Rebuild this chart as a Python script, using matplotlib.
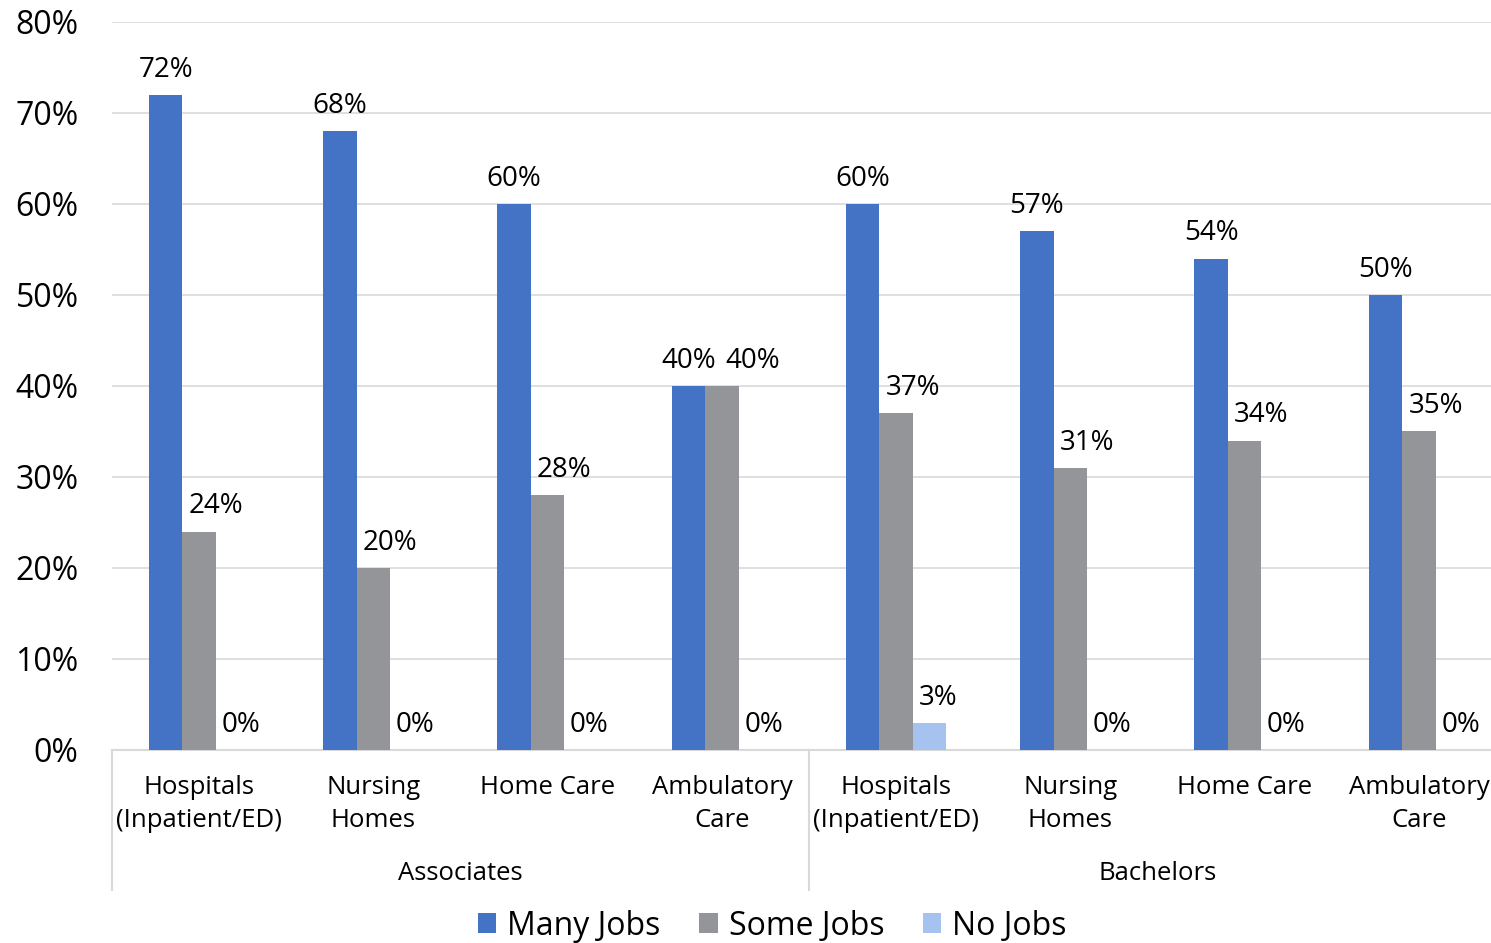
import matplotlib.pyplot as plt
import numpy as np

# job availability by setting, split by degree
categories = ["Hospitals\n(Inpatient/ED)", "Nursing\nHomes", "Home Care", "Ambulatory\nCare",
              "Hospitals\n(Inpatient/ED)", "Nursing\nHomes", "Home Care", "Ambulatory\nCare"]
groups = ["Associates", "Bachelors"]
many_jobs = [72, 68, 60, 40, 60, 57, 54, 50]
some_jobs = [24, 20, 28, 40, 37, 31, 34, 35]
no_jobs = [0, 0, 0, 0, 3, 0, 0, 0]

series = [("Many Jobs", many_jobs, "#4472C4"),
          ("Some Jobs", some_jobs, "#939598"),
          ("No Jobs", no_jobs, "#A6C3F0")]
# horizontal nudge of the value labels, in points
label_dx = [0, 12, 6]

plt.rcParams['font.family'] = ['Open Sans', 'DejaVu Sans']
txt = "#000000"

fig = plt.figure(figsize=(14.91, 9.43), dpi=100)
ax = fig.add_axes([0.0751, 0.2047, 0.935, 0.772])

x = np.arange(len(categories))
w = 0.192
labels = []
for i, (name, vals, col) in enumerate(series):
    bars = ax.bar(x + (i - 1) * w, vals, w, color=col, label=name, zorder=3)
    row = []
    for b, v in zip(bars, vals):
        t = ax.annotate(f"{v}%", (b.get_x() + b.get_width() / 2, v),
                        xytext=(label_dx[i], 8), textcoords="offset points",
                        ha="center", va="bottom", fontsize=20, color=txt)
        row.append(t)
    labels.append(row)

ax.set_xlim(-0.5, len(categories) - 0.5)
ax.set_ylim(0, 80)
ax.set_yticks(range(0, 81, 10))
ax.set_yticklabels([f"{t}%" for t in range(0, 81, 10)], fontsize=23, color=txt)
ax.tick_params(axis="y", length=0, pad=24)
ax.set_xticks([])
ax.grid(axis="y", color="#d9d9d9", linewidth=1.2, zorder=0)
for s in ["top", "right", "left"]:
    ax.spines[s].set_visible(False)
ax.spines["bottom"].set_color("#d9d9d9")
ax.spines["bottom"].set_linewidth(1.5)

# category and group labels underneath the axis
tr = ax.get_xaxis_transform()
for xi, lab in zip(x, categories):
    ax.text(xi, -0.034, lab, transform=tr, ha="center", va="top",
            fontsize=18.5, color=txt, linespacing=1.45)
for gi, g in enumerate(groups):
    ax.text(gi * 4 + 1.5, -0.17, g, transform=tr, ha="center", va="center",
            fontsize=18.5, color=txt)
for sx in [-0.5, 3.5, 7.5]:
    ax.plot([sx, sx], [0, -0.192], transform=tr, color="#d9d9d9",
            linewidth=1.5, clip_on=False)

# push "Some Jobs" labels right when they run into the "Many Jobs" label
fig.canvas.draw()
r = fig.canvas.get_renderer()
for a, b in zip(labels[0], labels[1]):
    ea, eb = a.get_window_extent(r), b.get_window_extent(r)
    if ea.overlaps(eb):
        shift = (ea.x1 + 10 - eb.x0) * 72 / fig.dpi
        dx, dy = b.xyann
        b.xyann = (dx + shift, dy)

fig.legend(loc="center", bbox_to_anchor=(0.518, 0.018), ncol=3, frameon=False,
           fontsize=23, handlelength=0.58, handleheight=0.58, handletextpad=0.35,
           columnspacing=1.2, labelcolor=txt)

fig.savefig("out.png", dpi=100)
